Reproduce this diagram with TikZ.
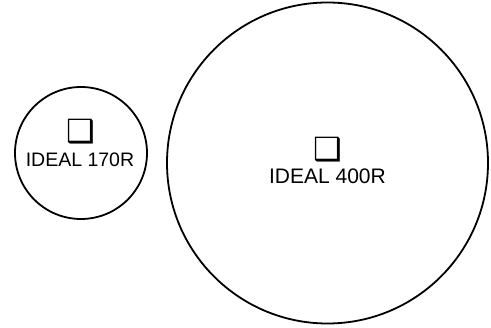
\documentclass[tikz,border=0pt]{standalone}
\usepackage{fontspec}
\setmainfont{Liberation Sans}
\newfontfamily\dingfont{DejaVu Sans}
\usetikzlibrary{positioning}

\tikzset{
  ring/.style = {draw, line width=1.8pt, circle, inner sep=0pt},
  tag/.style = {inner sep=0pt, anchor=base},
  boxmark/.style = {inner sep=0pt, font=\dingfont\fontsize{32}{32}\selectfont}
}

\begin{document}
\begin{tikzpicture}[x=1pt, y=-1pt]
\useasboundingbox (0,0) rectangle (491,328);

\coordinate (c170) at (81,153);
\coordinate (c400) at (327.5,163);

\node[ring, minimum size=132pt] (r170) at (c170) {};
\node[ring, minimum size=321pt] (r400) at (c400) {};

\node[tag, font=\fontsize{19.5}{19.5}\selectfont] (t170) at (80,167) {IDEAL 170R};
\node[tag, font=\fontsize{21}{21}\selectfont] (t400) at (327.5,184) {IDEAL 400R};

\node[boxmark] (b170) at (80.5,132) {❑};
\node[boxmark] (b400) at (327.5,149.5) {❑};

\end{tikzpicture}
\end{document}
